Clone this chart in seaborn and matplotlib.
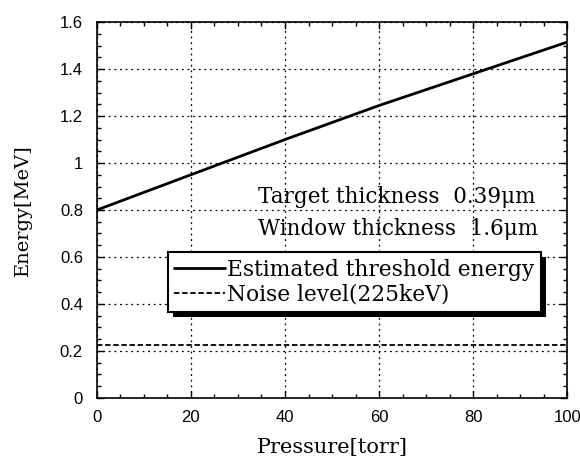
import numpy as np
import pandas as pd
import seaborn as sns
import matplotlib
matplotlib.use("Agg")
import matplotlib.pyplot as plt
from matplotlib import patheffects
from matplotlib.ticker import MultipleLocator

pressure = [0, 20, 40, 60, 80, 100]
threshold = [0.80, 0.95, 1.10, 1.245, 1.38, 1.515]
noise = [0.225, 0.225, 0.225, 0.225, 0.225, 0.225]
series_names = ["Estimated threshold energy", "Noise level(225keV)"]
xticks = [0, 20, 40, 60, 80, 100]
yticks = [0, 0.2, 0.4, 0.6, 0.8, 1.0, 1.2, 1.4, 1.6]
ytick_labels = ["0", "0.2", "0.4", "0.6", "0.8", "1", "1.2", "1.4", "1.6"]
notes = ["Target thickness  0.39\u03bcm", "Window thickness  1.6\u03bcm"]

sns.set_theme(style="white")
plt.rcParams["font.family"] = ["Liberation Sans", "DejaVu Sans"]
plt.rcParams["text.color"] = "black"
plt.rcParams["axes.labelcolor"] = "black"
plt.rcParams["xtick.color"] = "black"
plt.rcParams["ytick.color"] = "black"

df = pd.DataFrame({
    "Pressure": pressure * 2,
    "Energy": threshold + noise,
    "Series": [series_names[0]] * len(pressure) + [series_names[1]] * len(pressure),
})

fig = plt.figure(figsize=(5.8, 4.61), dpi=100)
ax = fig.add_axes([0.167, 0.137, 0.811, 0.815])

sns.lineplot(data=df, x="Pressure", y="Energy", hue="Series", style="Series",
             palette=["black", "black"], dashes=[(None, None), (3, 1.5)],
             linewidth=1.8, ax=ax, legend=False)
lines = ax.get_lines()
lines[0].set_linestyle("-")
lines[0].set_linewidth(2.0)
lines[1].set_linestyle((0, (3, 1.5)))
lines[1].set_linewidth(1.3)

ax.set_xlim(0, 100)
ax.set_ylim(0, 1.6)
ax.set_xticks(xticks)
ax.set_xticklabels([str(v) for v in xticks])
ax.set_yticks(yticks)
ax.set_yticklabels(ytick_labels)
ax.xaxis.set_minor_locator(MultipleLocator(5))
ax.yaxis.set_minor_locator(MultipleLocator(0.05))
ax.tick_params(which="both", direction="in", top=True, right=True,
               bottom=True, left=True, colors="black", labelcolor="black", labelsize=12)
ax.tick_params(which="major", length=5, width=1)
ax.tick_params(which="minor", length=3, width=1)
ax.tick_params(axis="x", pad=9)
ax.tick_params(axis="y", pad=10)
ax.grid(True, which="major", linestyle=(0, (1.5, 3)), color="black", linewidth=0.9)
for s in ax.spines.values():
    s.set_color("black")
    s.set_linewidth(1.2)

serif = ["DejaVu Serif"]
ax.set_xlabel("Pressure[torr]", fontsize=15, family=serif, labelpad=9, color="black")
ax.set_ylabel("Energy[MeV]", fontsize=14, family=serif, labelpad=20, color="black")

ax.text(34.3, 0.855, notes[0], fontsize=15.5, family=serif, va="center", ha="left", color="black")
ax.text(34.3, 0.719, notes[1], fontsize=15.5, family=serif, va="center", ha="left", color="black")

leg = ax.legend(lines, series_names, loc="upper left", bbox_to_anchor=(0.151, 0.388),
                frameon=True, fancybox=False, framealpha=1, edgecolor="black",
                prop={"family": serif, "size": 15.7}, handlelength=2.3,
                handletextpad=0.1, borderpad=0.3, labelspacing=0.12,
                borderaxespad=0, labelcolor="black")
frame = leg.get_frame()
frame.set_linewidth(1.5)
frame.set_path_effects([patheffects.SimplePatchShadow(offset=(3.8, -3.8), shadow_rgbFace="black", alpha=1),
                        patheffects.Normal()])

fig.savefig("out.png", dpi=100)
